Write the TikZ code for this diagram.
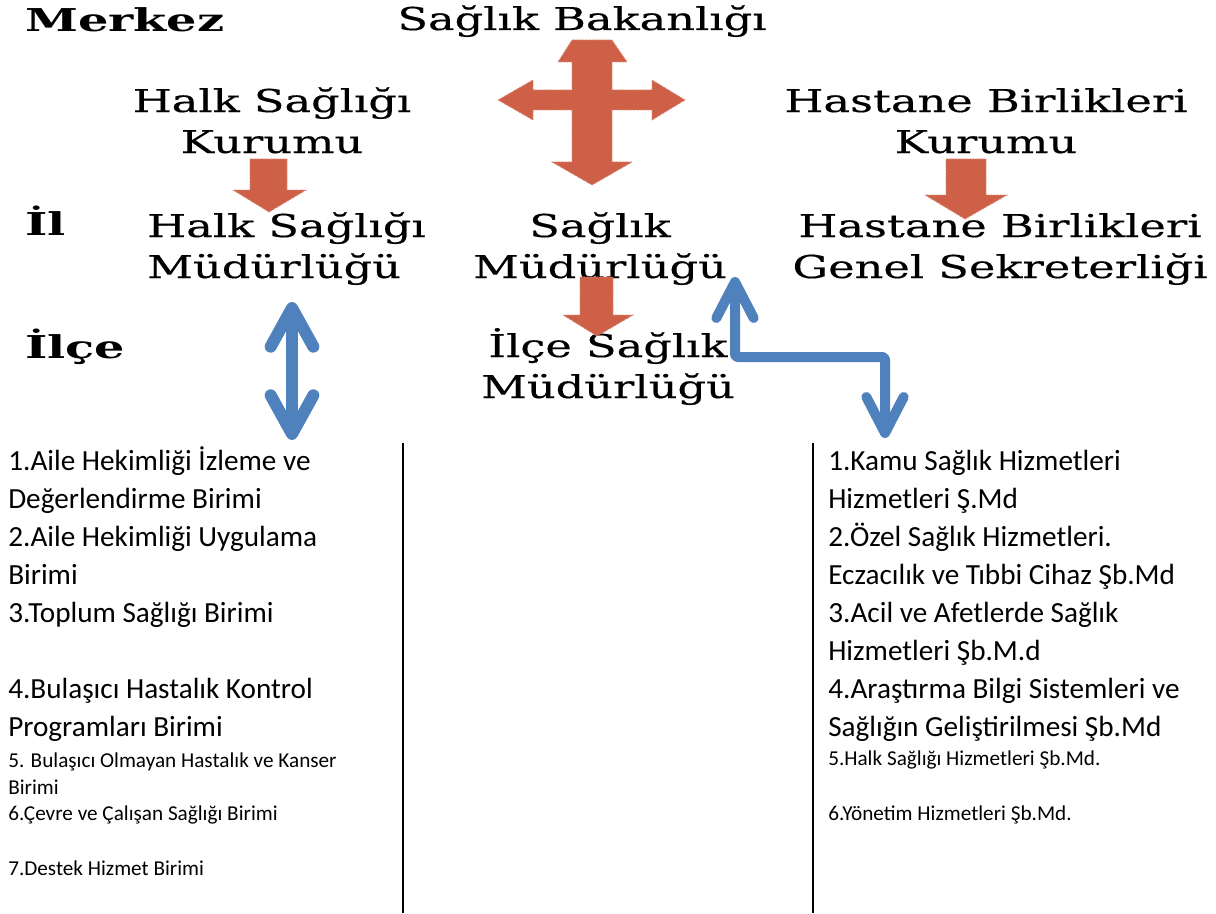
\documentclass[tikz,border=0pt]{standalone}
\usepackage{fontspec}
\setmainfont{DejaVu Serif}
\newfontfamily\hdrfont[FakeStretch=1.42,FakeBold=0.4]{DejaVu Serif}
\newfontfamily\hdrbfont[FakeStretch=1.52]{DejaVu Serif}
\newfontfamily\listfont{Carlito}
\usetikzlibrary{arrows.meta}
\definecolor{blockred}{RGB}{206,96,72}
\definecolor{linkblue}{RGB}{79,129,189}
\begin{document}
\begin{tikzpicture}[x=0.75pt,y=-0.75pt,
  hdr/.style={inner sep=0pt, font=\hdrfont\fontsize{23.6}{30.75}\selectfont},
  hdrb/.style={inner sep=0pt, anchor=base west, font=\hdrbfont\bfseries\fontsize{23.6}{30.75}\selectfont},
  biglist/.style={inner sep=0pt, anchor=base west, align=left, font=\listfont\fontsize{21.9}{28.5}\selectfont},
  smalllist/.style={inner sep=0pt, anchor=base west, align=left, font=\listfont\fontsize{15.9}{20.25}\selectfont},
  redblock/.style={fill=blockred, draw=blockred!75!white, dash pattern=on 1.5pt off 1pt, line width=0.6pt},
  linkarrow/.style={draw=linkblue, line join=round, line cap=round}]
\useasboundingbox[fill=white] (0,0) rectangle (1216,913);
\node [hdrb] (merkez) at (25,32) {Merkez};
\node [hdrb] (il) at (25,235) {İl};
\node [hdrb] (ilce) at (25,358) {İlçe};
\node [hdr, anchor=base] (bakanlik) at (582,30) {Sağlık Bakanlığı};
\node [hdr, anchor=base, align=center] (hskurum) at (272,153) {Halk Sağlığı\\Kurumu};
\node [hdr, anchor=base, align=center] (hbkurum) at (986,153) {Hastane Birlikleri\\Kurumu};
\node [hdr, anchor=base west, align=left] (hsmud) at (147,278) {Halk Sağlığı\\Müdürlüğü};
\node [hdr, anchor=base, align=center] (smud) at (600,278) {Sağlık\\Müdürlüğü};
\node [hdr, anchor=base, align=center] (hbgs) at (1000,278) {Hastane Birlikleri\\Genel Sekreterliği};
\node [hdr, anchor=base, align=center] (ilcemud) at (608,398) {İlçe Sağlık\\Müdürlüğü};
\fill [redblock] (572,40) -- (612,40) -- (627,62) -- (612,62) -- (612,90) -- (652,90) -- (652,80) -- (685,100) -- (652,120) -- (652,110) -- (612,110) -- (612,162) -- (632,162) -- (592,185) -- (552,162) -- (572,162) -- (572,110) -- (533,110) -- (533,120) -- (498,100) -- (533,80) -- (533,90) -- (572,90) -- (572,62) -- (558,62) -- cycle;
\fill [redblock] (250,159) -- (287,159) -- (287,190) -- (306,190) -- (269,212) -- (233,190) -- (250,190) -- cycle;
\fill [redblock] (946,159) -- (986,159) -- (986,195) -- (1007,195) -- (965,219) -- (925,195) -- (946,195) -- cycle;
\fill [redblock] (580,277) -- (613,277) -- (613,315) -- (633,315) -- (597,336) -- (563,315) -- (580,315) -- cycle;
\coordinate (hsmtip) at (292,302);
\coordinate (llisttip) at (292,440);
\coordinate (smudtip) at (735,277);
\coordinate (rlisttip) at (885,438);
\draw [linkarrow, line width=9pt, {Straight Barb[round,length=29pt,width=32pt]}-{Straight Barb[round,length=29pt,width=32pt]}] (hsmtip) -- (llisttip);
\draw [linkarrow, line width=7.5pt, rounded corners=2pt, {Straight Barb[round,length=27pt,width=28pt]}-{Straight Barb[round,length=27pt,width=28pt]}] (smudtip) -- ++(0,80) -| (rlisttip);
\draw [line width=1.5pt] (403,443) -- (403,913);
\draw [line width=1.5pt] (813,443) -- (813,913);
\node [biglist] (l1) at (8,508) {1.Aile Hekimliği İzleme ve\\Değerlendirme Birimi};
\node [biglist] (l2) at (8,584) {2.Aile Hekimliği Uygulama\\Birimi};
\node [biglist] (l3) at (8,622) {3.Toplum Sağlığı Birimi};
\node [biglist] (l4) at (8,736) {4.Bulaşıcı Hastalık Kontrol\\Programları Birimi};
\node [smalllist] (l5) at (8,794) {5. Bulaşıcı Olmayan Hastalık ve Kanser\\Birimi};
\node [smalllist] (l6) at (8,820) {6.Çevre ve Çalışan Sağlığı Birimi};
\node [smalllist] (l7) at (8,875) {7.Destek Hizmet Birimi};
\node [biglist] (r1) at (828,508) {1.Kamu Sağlık Hizmetleri\\Hizmetleri Ş.Md};
\node [biglist] (r2) at (828,584) {2.Özel Sağlık Hizmetleri.\\Eczacılık ve Tıbbi Cihaz Şb.Md};
\node [biglist] (r3) at (828,660) {3.Acil ve Afetlerde Sağlık\\Hizmetleri Şb.M.d};
\node [biglist] (r4) at (828,736) {4.Araştırma Bilgi Sistemleri ve\\Sağlığın Geliştirilmesi Şb.Md};
\node [smalllist] (r5) at (828,765) {5.Halk Sağlığı Hizmetleri Şb.Md.};
\node [smalllist] (r6) at (828,820) {6.Yönetim Hizmetleri Şb.Md.};
\end{tikzpicture}
\end{document}
